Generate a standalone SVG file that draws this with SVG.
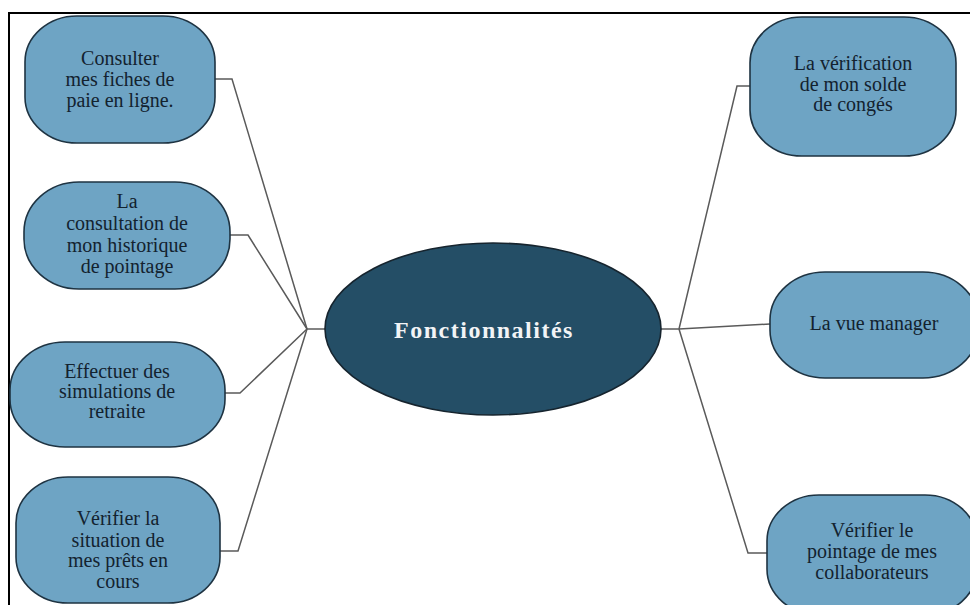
<svg xmlns="http://www.w3.org/2000/svg" width="970" height="605" viewBox="0 0 970 605">
  <style>
    .node { fill: #6ea4c4; stroke: #1e3342; stroke-width: 1.6; }
    .label { font-family: "Liberation Serif", "Times New Roman", serif; font-size: 20px; fill: #13222f; text-anchor: middle; }
    .link { fill: none; stroke: #5a5a5a; stroke-width: 1.5; }
    .title { font-family: "Liberation Serif", "Times New Roman", serif; font-size: 24px; font-weight: bold; fill: #f2f4f6; text-anchor: middle; letter-spacing: 1.5px; }
  </style>

  <rect x="0" y="0" width="970" height="605" fill="#ffffff"/>
  <!-- page frame -->
  <rect x="9" y="13" width="990" height="640" fill="none" stroke="#000000" stroke-width="2"/>

  <g id="connectors">
    <polyline class="link" points="215,79 232,79 307,329"/>
    <polyline class="link" points="230,235 248,235 307,329"/>
    <polyline class="link" points="225,393 240,393 307,329"/>
    <polyline class="link" points="220,551 238,551 307,329"/>
    <line class="link" x1="307" y1="329" x2="326" y2="329" stroke-width="2"/>
    <line class="link" x1="661" y1="329" x2="679" y2="329" stroke-width="2"/>
    <polyline class="link" points="750,86 737,86 679,329"/>
    <polyline class="link" points="770,324 679,329"/>
    <polyline class="link" points="767,553 748,553 679,329"/>
  </g>

  <g id="center">
    <ellipse cx="493" cy="329" rx="168" ry="86" fill="#244e66" stroke="#16242e" stroke-width="1.6"/>
    <text class="title" x="484" y="338">Fonctionnalités</text>
  </g>

  <g id="node-fiches-paie">
    <rect class="node" x="25" y="16" width="190" height="127" rx="52" ry="46"/>
    <text class="label"><tspan x="120" y="65">Consulter</tspan><tspan x="120" y="86">mes fiches de</tspan><tspan x="120" y="107">paie en ligne.</tspan></text>
  </g>

  <g id="node-historique">
    <rect class="node" x="24" y="182" width="206" height="107" rx="55" ry="50"/>
    <text class="label"><tspan x="127" y="208">La</tspan><tspan x="127" y="230">consultation de</tspan><tspan x="127" y="252">mon historique</tspan><tspan x="127" y="273">de pointage</tspan></text>
  </g>

  <g id="node-retraite">
    <rect class="node" x="10" y="342" width="215" height="105" rx="55" ry="48"/>
    <text class="label"><tspan x="117" y="378">Effectuer des</tspan><tspan x="117" y="398">simulations de</tspan><tspan x="117" y="418">retraite</tspan></text>
  </g>

  <g id="node-prets">
    <rect class="node" x="16" y="477" width="204" height="126" rx="52" ry="46"/>
    <text class="label"><tspan x="118" y="525">Vérifier la</tspan><tspan x="118" y="547">situation de</tspan><tspan x="118" y="567">mes prêts en</tspan><tspan x="118" y="588">cours</tspan></text>
  </g>

  <g id="node-conges">
    <rect class="node" x="750" y="17" width="206" height="139" rx="52" ry="46"/>
    <text class="label"><tspan x="853" y="70">La vérification</tspan><tspan x="853" y="91">de mon solde</tspan><tspan x="853" y="111">de congés</tspan></text>
  </g>

  <g id="node-manager">
    <rect class="node" x="770" y="272" width="208" height="106" rx="55" ry="48"/>
    <text class="label" x="874" y="330">La vue manager</text>
  </g>

  <g id="node-collaborateurs">
    <rect class="node" x="767" y="495" width="210" height="120" rx="52" ry="46"/>
    <text class="label"><tspan x="872" y="537">Vérifier le</tspan><tspan x="872" y="558">pointage de mes</tspan><tspan x="872" y="579">collaborateurs</tspan></text>
  </g>
</svg>
